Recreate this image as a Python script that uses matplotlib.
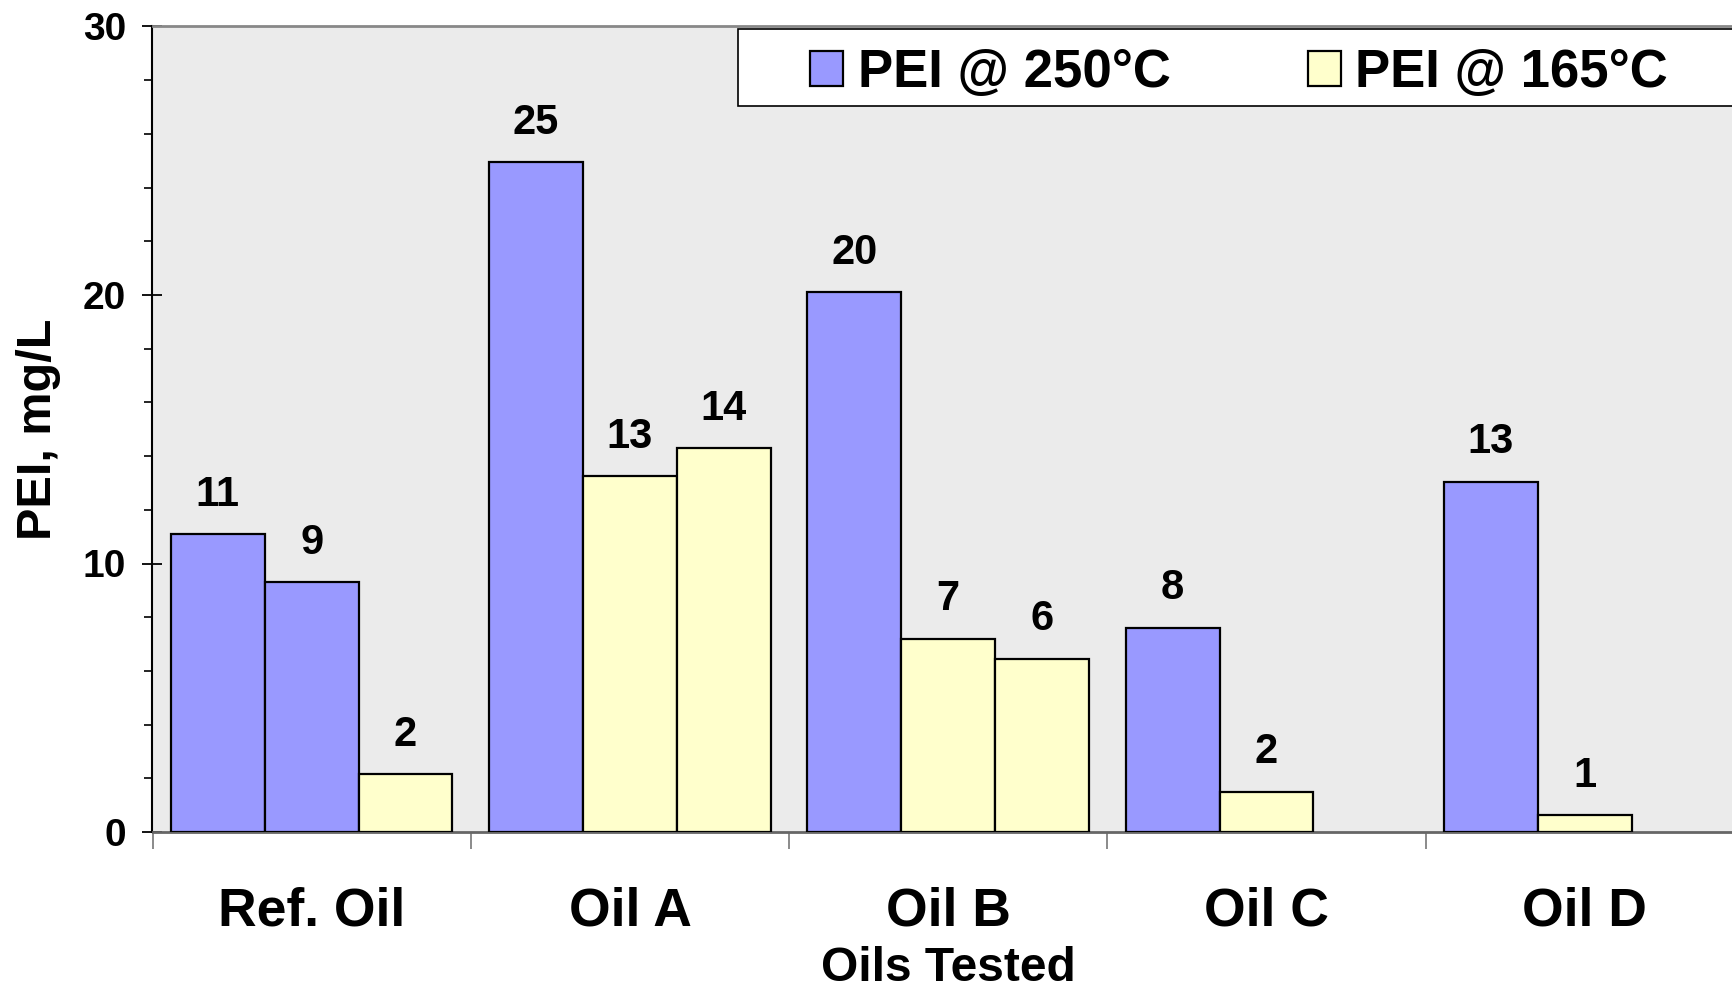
import matplotlib
matplotlib.use("Agg")
import matplotlib.pyplot as plt
from matplotlib.patches import Rectangle
from matplotlib.ticker import MultipleLocator, FixedLocator

categories = ["Ref. Oil", "Oil A", "Oil B", "Oil C", "Oil D"]
# PEI in mg/L; some oils were run twice at the same temperature
pei_250 = [[11.1, 9.3], [24.95], [20.1], [7.6], [13.05]]
pei_165 = [[2.15], [13.25, 14.3], [7.2, 6.45], [1.5], [0.62]]
series_labels = ["PEI @ 250°C", "PEI @ 165°C"]

BLUE = "#9999ff"
YELLOW = "#ffffcc"
SLOT = 0.295  # bar width in category units, three slots per oil

plt.rcParams["font.family"] = ["Liberation Sans", "DejaVu Sans"]
plt.rcParams["font.weight"] = "bold"

W, H = 1733, 991
fig = plt.figure(figsize=(W / 100, H / 100), dpi=100)
ax = fig.add_axes([152.5 / W, 1 - 832 / H, 1591.5 / W, 805.5 / H])
ax.set_facecolor("#ebebeb")

handles = {}
for i, (hot, cold) in enumerate(zip(pei_250, pei_165)):
    runs = [(v, BLUE, series_labels[0]) for v in hot] + [(v, YELLOW, series_labels[1]) for v in cold]
    for slot, (v, color, lab) in enumerate(runs):
        x = i + (slot - 1) * SLOT
        b = ax.bar(x, v, width=SLOT, color=color, edgecolor="black", linewidth=1.6, zorder=3)
        handles.setdefault(lab, b)
        ax.annotate(f"{v:.0f}", (x, v), xytext=(0, 14), textcoords="offset points",
                    ha="center", va="bottom", fontsize=30, fontweight="bold")

ax.set_xlim(-0.5, 4.5)
ax.set_ylim(0, 30)

ax.yaxis.set_major_locator(MultipleLocator(10))
ax.yaxis.set_minor_locator(MultipleLocator(2))
ax.tick_params(axis="y", which="major", direction="inout", length=14, width=1.3, labelsize=28, pad=12)
ax.tick_params(axis="y", which="minor", direction="out", length=6, width=1.2)

ax.set_xticks(range(len(categories)))
ax.set_xticklabels(categories)
ax.xaxis.set_minor_locator(FixedLocator([i - 0.5 for i in range(len(categories) + 1)]))
ax.tick_params(axis="x", which="major", length=0, labelsize=38.5, pad=39)
ax.tick_params(axis="x", which="minor", direction="out", length=12, width=1.2, color="#777777")

ax.spines["right"].set_visible(False)
ax.spines["top"].set_color("#888888")
ax.spines["top"].set_linewidth(2)
ax.spines["left"].set_linewidth(1.5)
ax.spines["bottom"].set_color("#666666")
ax.spines["bottom"].set_linewidth(2)

ax.set_xlabel("Oils Tested", fontsize=34.5, fontweight="bold", labelpad=7)
ax.set_ylabel("PEI, mg/L", fontsize=35, fontweight="bold", labelpad=16)

# legend box sits across the top right of the plot
fig.add_artist(Rectangle((738 / W, 1 - 106 / H), (1750 - 738) / W, 77 / H, transform=fig.transFigure,
                         facecolor="white", edgecolor="black", linewidth=1.2, zorder=4))
fig.legend([handles[l] for l in series_labels], series_labels, loc="center left",
           bbox_to_anchor=(784 / W, 1 - 73 / H), frameon=False, ncol=2,
           borderpad=0, handlelength=0.62, handleheight=0.62, handletextpad=0.28,
           columnspacing=2.6, prop={"weight": "bold", "size": 38})

fig.savefig("out.png", dpi=100)
